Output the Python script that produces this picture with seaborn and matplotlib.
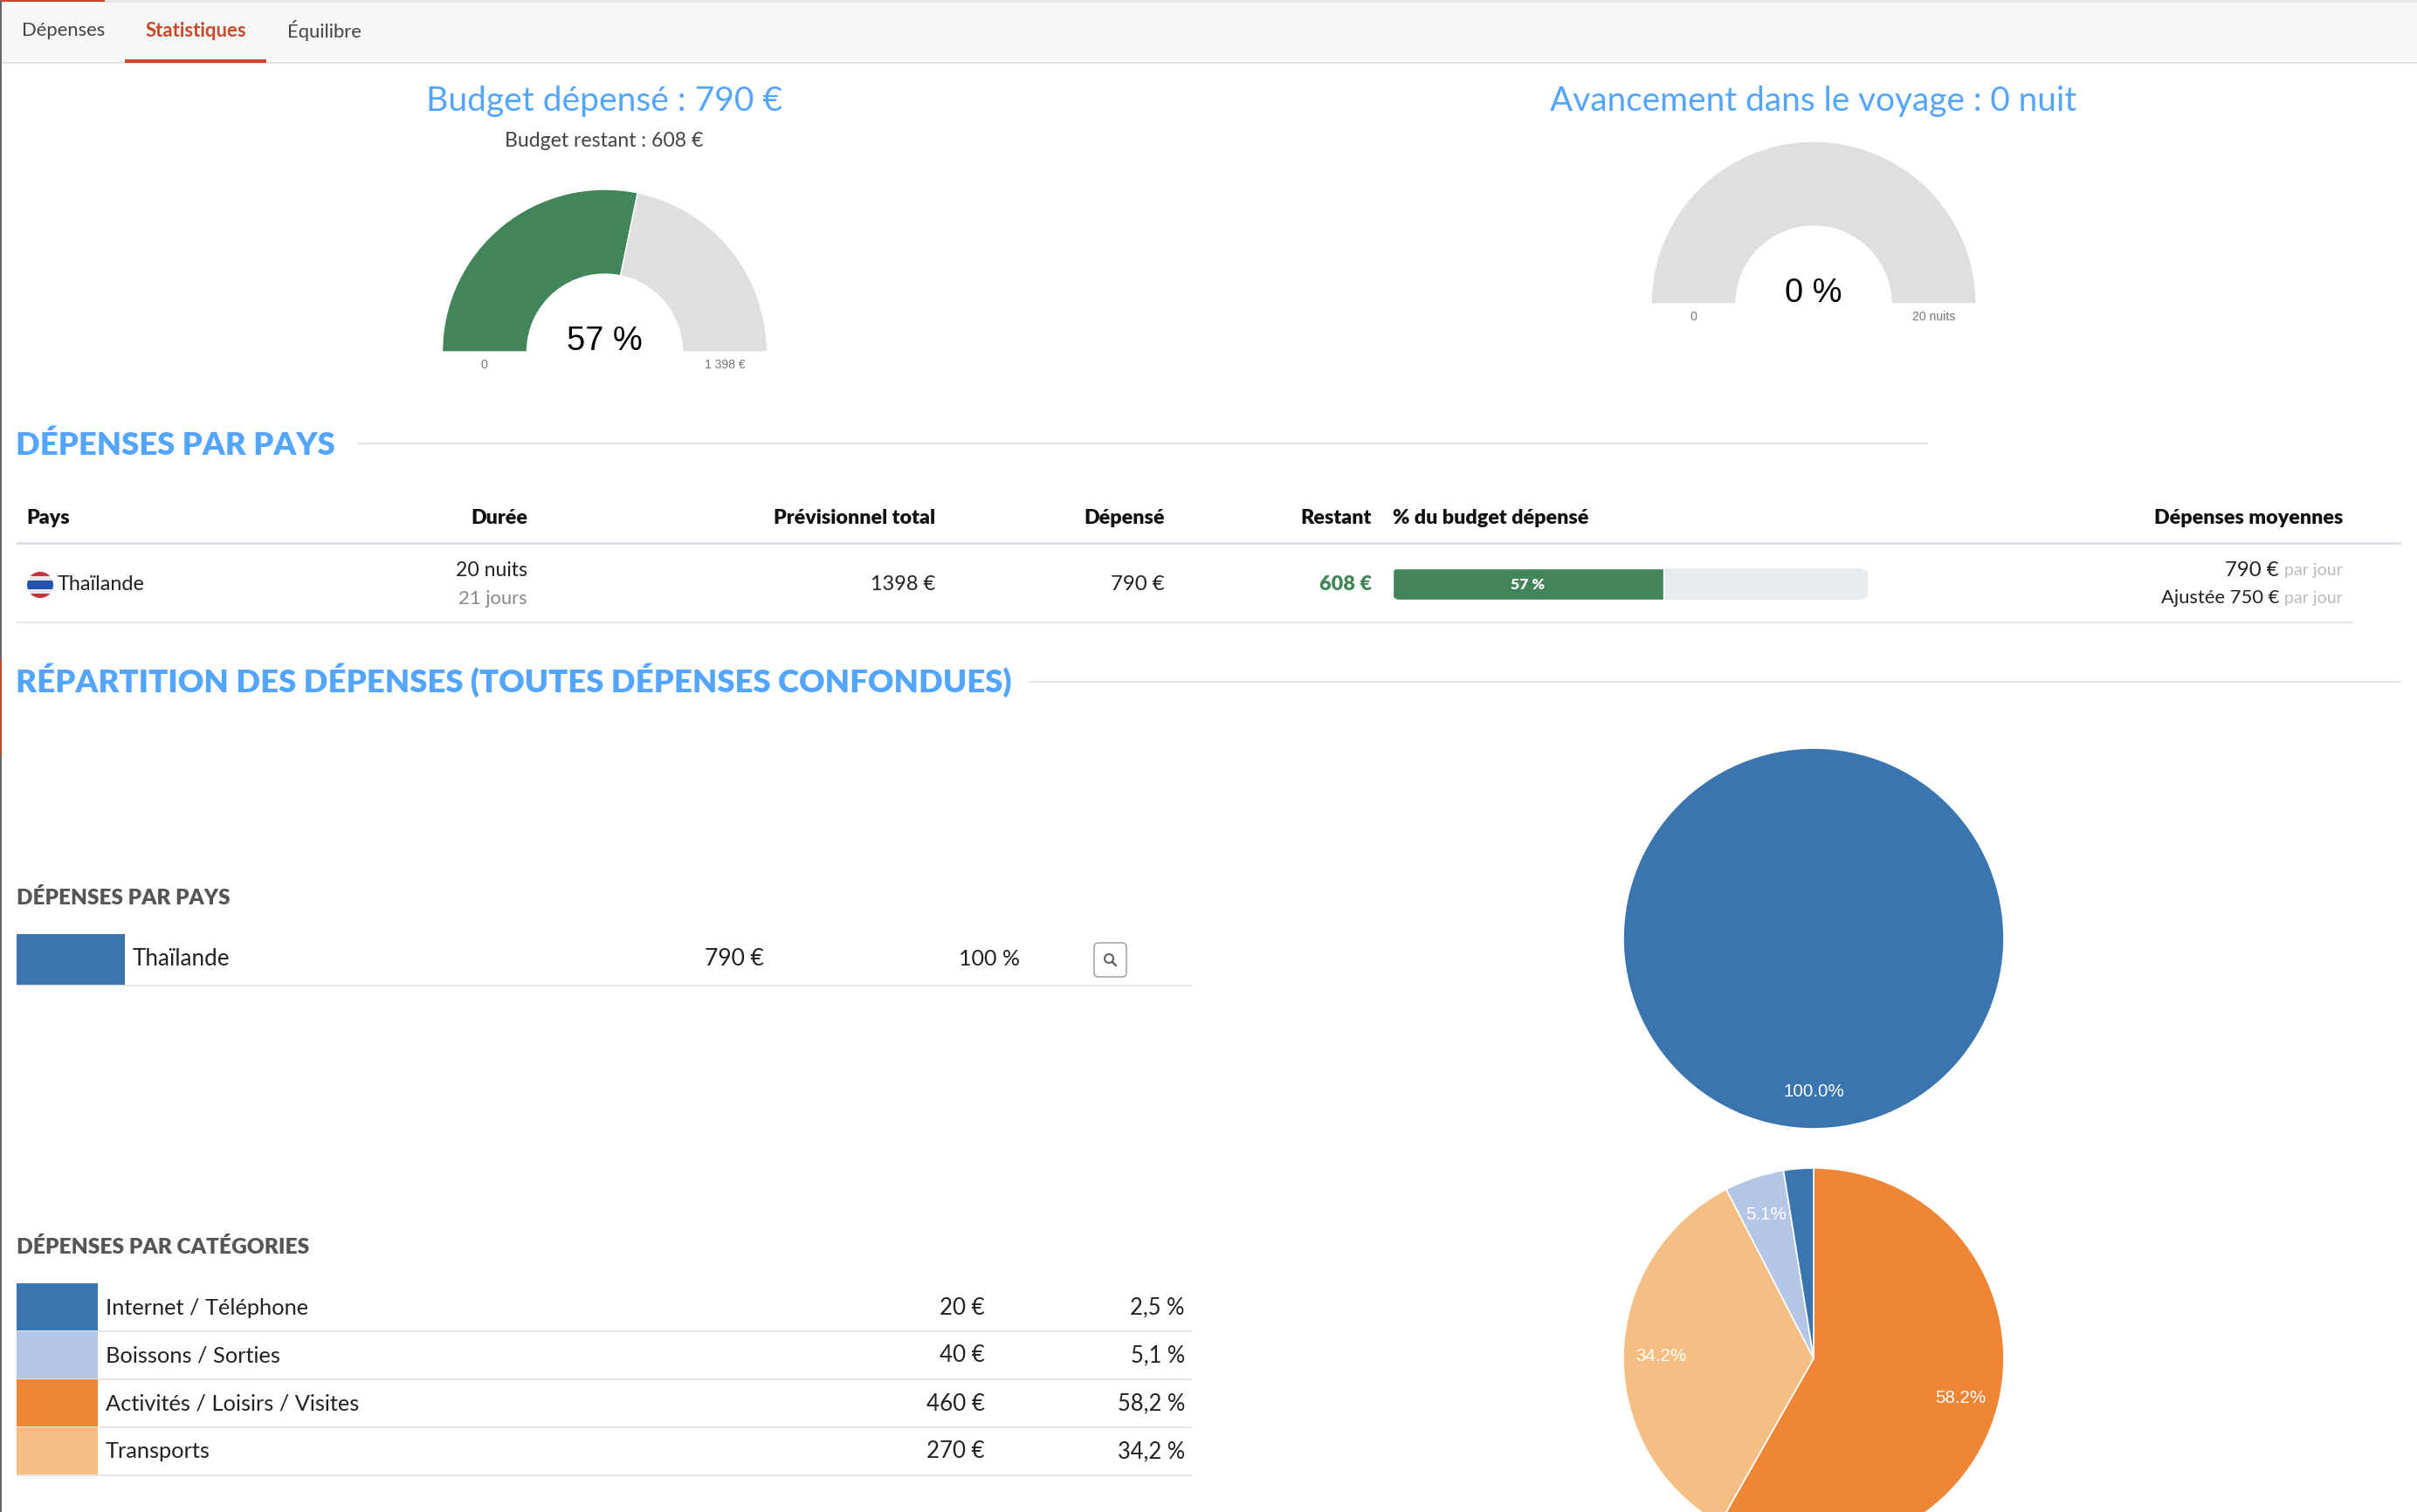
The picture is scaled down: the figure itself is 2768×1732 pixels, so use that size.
import matplotlib
matplotlib.use("Agg")
import matplotlib.pyplot as plt
from matplotlib.patches import Rectangle, FancyBboxPatch, Circle
import seaborn as sns

# ---- data ----
budget_values = [790, 608]
voyage_values = [0, 20]
budget_pct_label = "57 %"
voyage_pct_label = "0 %"
progress_pct = [57]
country_names = ["Thaïlande"]
country_values = [790]
category_names = ["Internet / Téléphone", "Boissons / Sorties", "Activités / Loisirs / Visites", "Transports"]
category_values = [20, 40, 460, 270]
category_pct_labels = ["2,5 %", "5,1 %", "58,2 %", "34,2 %"]
pie_order = [2, 3, 1, 0]
tabs = ["Dépenses", "Statistiques", "Équilibre"]
table_headers = ["Pays", "Durée", "Prévisionnel total", "Dépensé", "Restant", "% du budget dépensé", "Dépenses moyennes"]

# ---- colours ----
BLUE_T = "#54a5ff"
GREEN = "#418558"
GAUGE_GREY = "#dfdfdf"
LINE = "#e3e3e8"
cat_colors = sns.color_palette(["#3a75af", "#b3c6e6", "#ef8636", "#f5be82"])

sns.set_theme(style="white")
plt.rcParams["font.family"] = ["Lato", "DejaVu Sans"]

W, H = 2768, 1732
fig = plt.figure(figsize=(W / 100, H / 100), dpi=100, facecolor="white")
bg = fig.add_axes([0, 0, 1, 1], zorder=0)
bg.set_xlim(0, W)
bg.set_ylim(H, 0)
bg.axis("off")


def T(x, y, s, px=24, color="#222222", ha="left", weight="normal", family=None, **kw):
    if family is None:
        family = ["Lato", "DejaVu Sans"]
    return bg.text(x, y, s, fontsize=px * 0.72, color=color, ha=ha, va="center",
                   fontweight=weight, family=family, zorder=5, **kw)


def R(x0, y0, x1, y1, color):
    bg.add_patch(Rectangle((x0, y0), x1 - x0, y1 - y0, fc=color, ec="none", lw=0))


def px_axes(x0, y0, x1, y1, z=2):
    return fig.add_axes([x0 / W, 1 - y1 / H, (x1 - x0) / W, (y1 - y0) / H], zorder=z)


# ---- page chrome ----
R(0, 0, W, 72, "#f7f7f7")
R(0, 0, W, 3, "#e6e6e6")
R(0, 0, 120, 2, "#c8492a")
R(0, 71, W, 73, "#e2e2ea")
R(0, 0, 1.5, H, "#666666")
R(0, 755, 1.5, 865, "#c8492a")

T(25, 35, tabs[0], 22, "#444444")
T(167, 35, tabs[1], 22.2, "#c8492a", weight="bold")
T(329, 35, tabs[2], 22, "#444444")
R(143, 68, 305, 72, "#c8492a")


# ---- gauges ----
def gauge(cx, cy, values, pct, left, right):
    r = 186
    ax = px_axes(cx - r, cy - r, cx + r, cy + r)
    total = sum(values)
    wedges, _ = ax.pie(values + [total], colors=[GREEN, GAUGE_GREY, "white"], startangle=180,
                       counterclock=False, radius=1,
                       wedgeprops=dict(width=1 - 89 / r, edgecolor="white", linewidth=1))
    wedges[2].set_visible(False)
    ax.set_xlim(-1, 1)
    ax.set_ylim(-1, 1)
    T(cx, cy - 12, pct, 38, "black", ha="center", family="Liberation Sans")
    T(cx - 138, cy + 15, left, 14, "#777777", ha="center", family="Liberation Sans")
    T(cx + 138, cy + 15, right, 14, "#777777", ha="center", family="Liberation Sans")


T(692, 116, "Budget dépensé : 790 €", 39, BLUE_T, ha="center")
T(692, 162, "Budget restant : 608 €", 23, "#444444", ha="center")
gauge(692.5, 403, budget_values, budget_pct_label, "0", "1 398 €")
T(2077, 116, "Avancement dans le voyage : 0 nuit", 38.8, BLUE_T, ha="center")
gauge(2077, 348, voyage_values, voyage_pct_label, "0", "20 nuits")

# ---- section 1 table ----
T(18, 510, "DÉPENSES PAR PAYS", 36.4, BLUE_T, weight="heavy")
R(409, 507, 2208, 509, LINE)

hx = [(30, "left"), (604, "right"), (1071, "right"), (1334, "right"), (1571, "right"), (1595, "left"), (2683, "right")]
for (x, ha), s in zip(hx, table_headers):
    T(x, 593, s, 23.3, "#111111", ha=ha, weight="heavy")
R(19, 621, 2750, 624, "#dee2e6")
R(19, 712, 2695, 714, LINE)

flag = Circle((46, 670), 15, transform=bg.transData, fc="none", ec="none")
bg.add_patch(flag)
for y0, y1, c in [(655, 660, "#c8323c"), (660, 665, "#e8e8ee"), (665, 675, "#2352b0"),
                  (675, 680, "#e8e8ee"), (680, 685, "#c8323c")]:
    p = Rectangle((31, y0), 30, y1 - y0, fc=c, ec="none")
    bg.add_patch(p)
    p.set_clip_path(flag)

T(66, 669, country_names[0], 23.5, "#222222")
T(604, 653, "20 nuits", 23, "#222222", ha="right")
T(604, 686, "21 jours", 22, "#888888", ha="right")
T(1071, 669, "1398 €", 23.5, "#222222", ha="right")
T(1334, 669, "790 €", 24, "#222222", ha="right")
T(1571, 669, "608 €", 23.5, GREEN, ha="right", weight="heavy")
T(2683, 654, "par jour", 19.5, "#bbbbbb", ha="right")
T(2610, 653, "790 €", 24, "#222222", ha="right")
T(2683, 686, "par jour", 19.5, "#bbbbbb", ha="right")
T(2610, 685, "Ajustée 750 €", 22, "#222222", ha="right")

track = FancyBboxPatch((1595, 651), 544, 36, boxstyle="round,pad=0,rounding_size=8", fc="#e9ecef", ec="none")
bg.add_patch(track)
axb = px_axes(1595, 651, 2139, 687)
axb.patch.set_visible(False)
sns.barplot(x=progress_pct, y=["Thaïlande"], color=GREEN, width=1, orient="h", saturation=1, ax=axb)
axb.set_xlim(0, 100)
axb.set_ylim(0.5, -0.5)
axb.axis("off")
for b in axb.patches:
    b.set_clip_path(track)
axb.text(progress_pct[0] / 2, 0.03, budget_pct_label, color="white", ha="center", va="center",
         fontsize=17.5 * 0.72, fontweight="heavy", family=["Lato", "DejaVu Sans"])

# ---- section 2 ----
T(18, 779, "RÉPARTITION DES DÉPENSES (TOUTES DÉPENSES CONFONDUES)", 36.5, BLUE_T, weight="heavy")
R(1177, 780, 2750, 782, LINE)

T(19, 1028, "DÉPENSES PAR PAYS", 24.2, "#555555", weight="heavy")
R(19, 1070, 143, 1128, cat_colors[0])
R(19, 1128, 1365, 1130, LINE)
T(152, 1098, country_names[0], 26, "#222222")
T(875, 1098, f"{country_values[0]} €", 26.5, "#222222", ha="right")
T(1168, 1098, "100 %", 25, "#222222", ha="right")
bg.add_patch(FancyBboxPatch((1253, 1080), 37, 39, boxstyle="round,pad=0,rounding_size=5",
                            fc="white", ec="#999999", lw=1.0))
bg.add_patch(Circle((1270, 1098), 5, fc="none", ec="#666666", lw=1.6))
bg.plot([1274, 1278], [1102, 1106], color="#666666", lw=1.8, solid_capstyle="round")

T(19, 1429, "DÉPENSES PAR CATÉGORIES", 24.5, "#555555", weight="heavy")
row_h = 55
for i, (n, v, p) in enumerate(zip(category_names, category_values, category_pct_labels)):
    top = 1470 + i * row_h
    R(19, top, 112, top + row_h - 1, cat_colors[i])
    R(19, top + row_h - 1, 1365, top + row_h + 1, LINE)
    cy = top + 28
    T(121, cy, n, 25.4, "#222222")
    T(1128, cy, f"{v} €", 26, "#222222", ha="right")
    T(1357, cy, p, 25.5, "#222222", ha="right")


# ---- pies ----
def pie(cx, cy, values, colors):
    r = 218
    ax = px_axes(cx - r, cy - r, cx + r, cy + r)
    _, _, autos = ax.pie(values, colors=colors, startangle=90, counterclock=False, radius=1,
                         autopct=lambda q: f"{q:.1f}%" if q >= 5 else "", pctdistance=0.8,
                         wedgeprops=dict(edgecolor="white", linewidth=1.2),
                         textprops=dict(color="white", fontsize=20.5 * 0.72, family="Liberation Sans"))
    for t in autos:
        x, y = t.get_position()
        t.set_position((x, y - 0.004))
    ax.set_xlim(-1, 1)
    ax.set_ylim(-1, 1)


pie(2077, 1075, country_values, [cat_colors[0]])
pie(2077, 1556, [category_values[i] for i in pie_order], [cat_colors[i] for i in pie_order])

fig.savefig("out.png", dpi=100, facecolor="white")
